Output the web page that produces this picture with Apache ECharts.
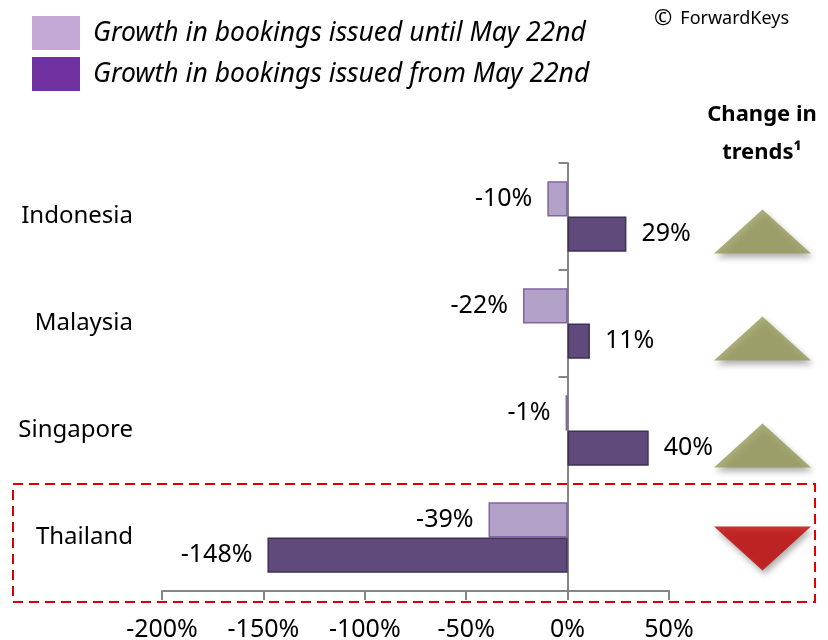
<!DOCTYPE html>
<html>
<head>
<meta charset="utf-8">
<script src="https://cdn.jsdelivr.net/npm/echarts@6/dist/echarts.min.js"></script>
<style>
  body { margin: 0; background: #fff; }
  #chart { width: 828px; height: 640px; }
</style>
</head>
<body>
<div id="chart"></div>
<script>
var countries = ['Indonesia', 'Malaysia', 'Singapore', 'Thailand'];
var untilMay22 = [-10, -22, -1, -39];
var fromMay22 = [29, 11, 40, -148];
var trends = ['up', 'up', 'up', 'down'];
var seriesNames = ['Growth in bookings issued until May 22nd', 'Growth in bookings issued from May 22nd'];
var xTicks = [-200, -150, -100, -50, 0, 50];

var font = 'Noto Sans';

function barData(values) {
  return values.map(function (v) {
    return { value: v, label: { position: v < 0 ? 'left' : 'right' } };
  });
}

var myChart = echarts.init(document.getElementById('chart'));

var option = {
  backgroundColor: '#fff',
  animation: false,
  textStyle: { fontFamily: font, color: '#000' },
  legend: {
    orient: 'vertical',
    left: 27,
    top: 11,
    itemWidth: 48,
    itemHeight: 34,
    itemGap: 7,
    icon: 'rect',
    selectedMode: false,
    textStyle: { fontFamily: font, fontStyle: 'italic', fontSize: 26.5, color: '#000', padding: [0, 0, 0, 8] },
    data: [
      { name: seriesNames[0], itemStyle: { color: '#c4a8d6', borderWidth: 0 } },
      { name: seriesNames[1], itemStyle: { color: '#7030a0', borderWidth: 0 } }
    ]
  },
  grid: [
    { left: 162, right: 159, top: 163, bottom: 49, outerBoundsMode: 'none', containLabel: false },
    { left: 714, width: 97, top: 163, bottom: 49, outerBoundsMode: 'none', containLabel: false }
  ],
  xAxis: [
    {
      type: 'value',
      gridIndex: 0,
      min: xTicks[0],
      max: xTicks[xTicks.length - 1],
      interval: 50,
      position: 'bottom',
      splitLine: { show: false },
      axisLine: { show: true, onZero: false, lineStyle: { color: '#868686', width: 2 } },
      axisTick: { show: true, length: 9, lineStyle: { color: '#868686', width: 2 } },
      axisLabel: {
        margin: 26,
        fontSize: 25,
        color: '#000',
        fontFamily: font,
        formatter: function (v) { return v + '%'; }
      }
    },
    {
      type: 'value',
      gridIndex: 1,
      min: 0,
      max: 1,
      show: false
    }
  ],
  yAxis: [
    {
      type: 'category',
      gridIndex: 0,
      inverse: true,
      data: countries,
      axisLine: { show: true, onZero: true, lineStyle: { color: '#868686', width: 2 } },
      axisTick: { show: true, length: 9, lineStyle: { color: '#868686', width: 2 } },
      axisLabel: { show: false }
    },
    {
      type: 'category',
      gridIndex: 1,
      inverse: true,
      data: countries,
      show: false
    },
    {
      // country names, placed left of the plot
      type: 'category',
      gridIndex: 0,
      inverse: true,
      position: 'left',
      data: countries,
      axisLine: { show: false, onZero: false },
      axisTick: { show: false },
      axisLabel: { show: true, margin: 29, fontSize: 24, color: '#000', fontFamily: font, align: 'right' }
    }
  ],
  series: [
    {
      name: seriesNames[0],
      type: 'bar',
      data: barData(untilMay22),
      barGap: '0%',
      barCategoryGap: '34%',
      itemStyle: { color: '#b3a2c7', borderColor: '#8064a2', borderWidth: 1.5 },
      label: {
        show: true,
        distance: 15,
        fontSize: 25,
        color: '#000',
        fontFamily: font,
        formatter: function (p) { return p.value + '%'; }
      }
    },
    {
      name: seriesNames[1],
      type: 'bar',
      data: barData(fromMay22),
      barGap: '0%',
      barCategoryGap: '34%',
      itemStyle: { color: '#604a7b', borderColor: '#3f3151', borderWidth: 1.5 },
      label: {
        show: true,
        distance: 15,
        fontSize: 25,
        color: '#000',
        fontFamily: font,
        formatter: function (p) { return p.value + '%'; }
      }
    },
    {
      name: 'trend',
      type: 'scatter',
      xAxisIndex: 1,
      yAxisIndex: 1,
      clip: false,
      symbol: 'triangle',
      symbolSize: [97, 44],
      data: trends.map(function (t, i) {
        var down = t === 'down';
        return {
          value: [0.5, countries[i]],
          symbolRotate: down ? 180 : 0,
          symbolOffset: [0, down ? 11 : 15],
          itemStyle: {
            color: down ? '#c00000' : '#979a58',
            shadowColor: 'rgba(0,0,0,0.4)',
            shadowBlur: 6,
            shadowOffsetX: 2,
            shadowOffsetY: 4
          }
        };
      })
    }
  ],
  graphic: [
    {
      type: 'rect',
      shape: { x: 13, y: 484, width: 802, height: 118 },
      style: { fill: null, stroke: '#dc0000', lineWidth: 2, lineDash: [10, 6] },
      z: 10
    },
    {
      type: 'text',
      x: 762,
      y: 96,
      style: {
        text: 'Change in\ntrends\u00b9',
        font: 'bold 22px "Noto Sans"',
        fill: '#000',
        align: 'center',
        lineHeight: 38
      }
    },
    {
      type: 'text',
      x: 654,
      y: 8,
      style: {
        text: '{c|\u00a9}{t|ForwardKeys}',
        rich: {
          c: { fontSize: 22, fontFamily: font, fill: '#000', padding: [0, 8, 0, 0] },
          t: { fontSize: 18, fontFamily: font, fill: '#000' }
        }
      }
    }
  ]
};

myChart.setOption(option);
</script>
</body>
</html>
